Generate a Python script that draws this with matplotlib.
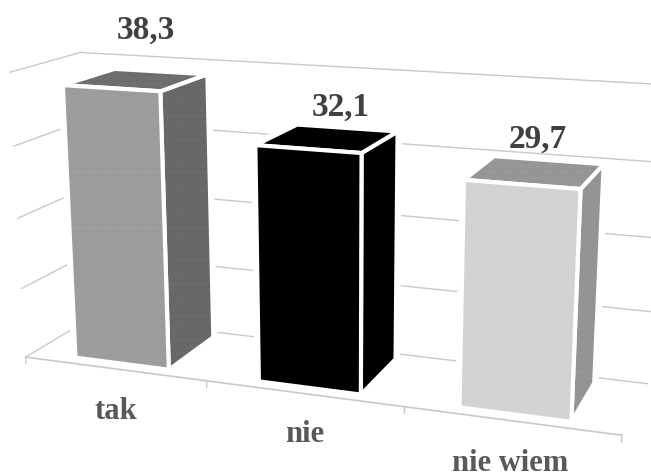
import matplotlib
matplotlib.use("Agg")
import matplotlib.pyplot as plt

categories = ['tak', 'nie', 'nie wiem']
values = [38.3, 32.1, 29.7]
value_labels = ['38,3', '32,1', '29,7']
grid_levels = [0, 10, 20, 30, 40]

# one shade per bar face: bottom, top, front, back, left, right
front_colors = ['#9a9a9a', '#000000', '#d2d2d2']
top_colors = ['#6a6a6a', '#000000', '#939393']
side_colors = ['#646464', '#000000', '#919191']
hatches = ['.' * 14, None, '.' * 14]

GRID = '#c9c9c9'
W, H = 651, 477


def put_text(px, baseline, s, color, size):
    fig.text(px / W, 1 - baseline / H, s, ha='center', va='baseline', color=color,
             fontsize=size, fontweight='bold', family='Liberation Serif')


plt.rcParams['hatch.linewidth'] = 0.0
fig = plt.figure(figsize=(6.51, 4.77), dpi=100)
size = 1.4436
ax = fig.add_axes([0.4898 - size / 2, 0.501 - size / 2, size, size],
                  projection='3d', computed_zorder=False)
ax.set_xlim(0, 3); ax.set_ylim(0, 1); ax.set_zlim(0, 40)
ax.view_init(14.7841, -69.5723, 0.1632)
ax.set_proj_type('persp', focal_length=0.4207)
ax.set_box_aspect((3, 0.6849, 1.4458))
ax.set_axis_off()

# walls and floor
for z in grid_levels:
    ax.plot([0, 0], [0, 1], [z, z], color=GRID, lw=1, zorder=1)
    ax.plot([0, 3], [1, 1], [z, z], color=GRID, lw=1, zorder=1)
ax.plot([0, 3], [0, 0], [0, 0], color=GRID, lw=1.2, zorder=1)
for x in range(4):
    ax.plot([x, x], [0, 0], [0, -0.9], color=GRID, lw=1, zorder=1)

bar_w, bar_d = 0.52, 0.77
for i, v in enumerate(values):
    x0, y0 = i + 0.5 - bar_w / 2, 0.5 - bar_d / 2
    # wider white outline keeps the grid lines clear of the bar
    ax.bar3d(x0, y0, 0, bar_w, bar_d, v, color='white', edgecolor='white',
             linewidth=6, shade=False, zorder=2)
    faces = [top_colors[i], top_colors[i], front_colors[i],
             front_colors[i], side_colors[i], side_colors[i]]
    ax.bar3d(x0, y0, 0, bar_w, bar_d, v, color=faces, edgecolor='white',
             linewidth=3, shade=False, hatch=hatches[i], zorder=3)

for (px, py), s in zip([(146, 39), (341, 116), (538, 148)], value_labels):
    put_text(px, py, s, '#404040', 24)
for (px, py), s in zip([(116, 419), (305, 442), (510, 471)], categories):
    put_text(px, py, s, '#595959', 22)

fig.savefig('out.png', dpi=100)
